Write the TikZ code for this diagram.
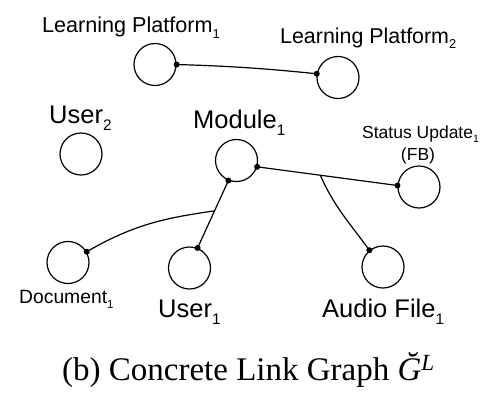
\documentclass[tikz,border=0pt]{standalone}
\usepackage{fontspec}
\usepackage{graphicx}
\setmainfont{Liberation Serif}
\newfontfamily\labelfont{Liberation Sans}
\usetikzlibrary{calc}
% lowered index digit after a label
\newcommand\idx[1]{\raisebox{-0.28em}{\scalebox{0.6}{#1}}}
\begin{document}
\begin{tikzpicture}[x=1pt,y=-1pt,
  vertex/.style={circle,draw,line width=1.2pt,minimum size=42pt,inner sep=0pt},
  link/.style={line width=1.2pt},
  pin/.style={circle,fill=black,inner sep=0pt,minimum size=6pt},
  lbl/.style={anchor=base west,inner sep=0pt,font=\labelfont\fontsize{#1}{#1}\selectfont},
  lbl/.default=25.5]
\useasboundingbox (0,0) rectangle (491,392);

% vertices
\node[vertex] (lp1) at (155,64.5) {};
\node[vertex] (lp2) at (338,77.5) {};
\node[vertex] (u2)  at (81,154) {};
\node[vertex] (mod) at (236.5,160.5) {};
\node[vertex] (su)  at (419,187) {};
\node[vertex] (doc) at (68,262.5) {};
\node[vertex] (u1)  at (189.5,268) {};
\node[vertex] (af)  at (383,267) {};

% labels
\node[lbl=21.6] (tlp1) at (42,32) {Learning Platform\idx{1}};
\node[lbl=21.4] (tlp2) at (280,43) {Learning Platform\idx{2}};
\node[lbl] (tu2) at (49,123) {User\idx{2}};
\node[lbl] (tmod) at (193,128) {Module\idx{1}};
\node[lbl=17.5] (tsu) at (362,138) {Status Update\idx{1}};
\node[lbl=17.5,anchor=base] (tfb) at (418,160) {(FB)};
\node[lbl=19.3] (tdoc) at (19,303) {Document\idx{1}};
\node[lbl] (tu1) at (158,317) {User\idx{1}};
\node[lbl] (taf) at (322,317) {Audio File\idx{1}};

% connector end points on the vertex borders
\coordinate (a1) at (lp1.0);
\coordinate (a2) at (lp2.170);
\coordinate (m1) at (mod.-17);
\coordinate (m2) at (mod.248);
\coordinate (s1) at (su.176);
\coordinate (us) at (u1.68);
\coordinate (dc) at (doc.30);
\coordinate (au) at (af.129);
\coordinate (bm) at ($(m1)!0.45!(s1)$);
\coordinate (bu) at ($(m2)!0.45!(us)$);

% connectors
\draw[link] (a1) to[bend left=2] (a2);
\draw[link] (m1) -- (s1);
\draw[link] (m2) -- (us);
\draw[link] (bm) to[out=-66,in=126] (au);
\draw[link] (bu) to[out=188,in=30] (dc);

% junction dots
\foreach \p in {a1,a2,m1,m2,s1,us,dc,au}
  \node[pin] at (\p) {};

% caption
\node[anchor=base west,inner sep=0pt,font=\fontsize{33}{40}\selectfont] (cap) at (62,380)
  {(b) Concrete Link Graph {\itshape Ğ}\textsuperscript{\itshape L}};
\end{tikzpicture}
\end{document}
